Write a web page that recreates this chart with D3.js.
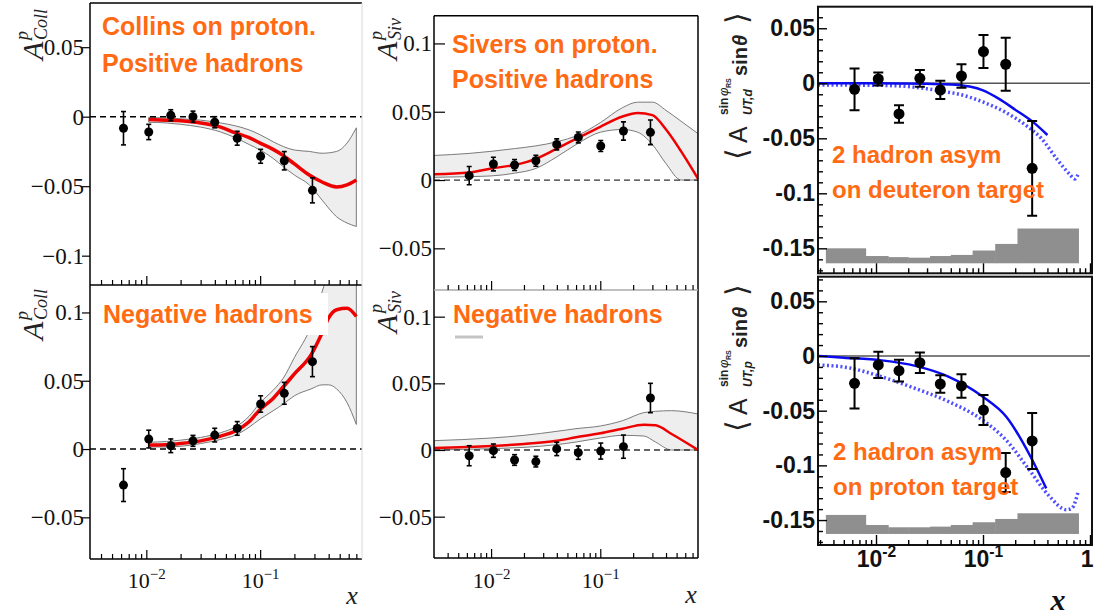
<!DOCTYPE html>
<html>
<head>
<meta charset="utf-8">
<script src="https://cdn.jsdelivr.net/npm/d3@7"></script>
<style>
  body { margin: 0; background: #fff; }
  svg { display: block; }
</style>
</head>
<body>
<div id="chart"></div>
<script>
// x bin centres (same for all six panels)
const xBins = [0.0063, 0.0105, 0.0164, 0.0257, 0.0399, 0.0629, 0.101, 0.163, 0.288];

// Collins, positive hadrons
const collinsPosVal = [-0.0083, -0.011, 0.001, 0.0, -0.004, -0.0155, -0.0285, -0.0317, -0.053];
const collinsPosErr = [0.012, 0.0055, 0.004, 0.004, 0.004, 0.005, 0.005, 0.0066, 0.009];
const collinsPosCurveX = [0.0105, 0.015, 0.02, 0.03, 0.045, 0.06, 0.08, 0.1, 0.13, 0.16, 0.2, 0.27, 0.35, 0.47, 0.58, 0.7];
const collinsPosFit = [-0.002, -0.0025, -0.003, -0.0045, -0.0075, -0.0115, -0.015, -0.019, -0.0235, -0.028, -0.034, -0.042, -0.047, -0.0505, -0.049, -0.0455];
const collinsPosHi = [-0.0005, -0.001, -0.0015, -0.0025, -0.0045, -0.0065, -0.0095, -0.013, -0.018, -0.0215, -0.024, -0.025, -0.0263, -0.025, -0.019, -0.008];
const collinsPosLo = [-0.004, -0.0045, -0.0055, -0.0075, -0.011, -0.015, -0.02, -0.024, -0.03, -0.036, -0.042, -0.049, -0.06, -0.072, -0.0765, -0.079];

// Collins, negative hadrons
const collinsNegVal = [-0.0264, 0.0073, 0.0024, 0.006, 0.0102, 0.0151, 0.033, 0.0408, 0.064];
const collinsNegErr = [0.012, 0.0065, 0.005, 0.004, 0.005, 0.005, 0.006, 0.008, 0.011];
const collinsNegCurveX = [0.0105, 0.015, 0.02, 0.03, 0.045, 0.06, 0.08, 0.1, 0.13, 0.16, 0.2, 0.28, 0.35, 0.4, 0.47, 0.58, 0.7];
const collinsNegFit = [0.003, 0.0032, 0.004, 0.006, 0.0095, 0.013, 0.02, 0.029, 0.037, 0.0456, 0.055, 0.069, 0.085, 0.096, 0.102, 0.103, 0.097];
const collinsNegHi = [0.005, 0.0055, 0.0065, 0.0085, 0.012, 0.016, 0.024, 0.034, 0.043, 0.052, 0.067, 0.09, 0.115, 0.13, 0.14, 0.15, 0.15];
const collinsNegLo = [0.0015, 0.0015, 0.002, 0.004, 0.007, 0.01, 0.016, 0.022, 0.028, 0.033, 0.039, 0.044, 0.047, 0.047, 0.044, 0.034, 0.018];

// Sivers, positive hadrons
const siversPosVal = [0.0032, 0.0117, 0.011, 0.0141, 0.0261, 0.0312, 0.0249, 0.0359, 0.0349];
const siversPosErr = [0.0067, 0.005, 0.004, 0.004, 0.004, 0.004, 0.004, 0.0067, 0.009];
const siversPosCurveX = [0.003, 0.0063, 0.01, 0.0164, 0.0257, 0.04, 0.063, 0.1, 0.16, 0.22, 0.3, 0.4, 0.55, 0.785];
const siversPosFit = [0.0042, 0.0055, 0.0085, 0.011, 0.0155, 0.023, 0.031, 0.039, 0.0465, 0.049, 0.0475, 0.037, 0.021, 0.001];
const siversPosHi = [0.018, 0.0195, 0.021, 0.023, 0.025, 0.028, 0.033, 0.042, 0.053, 0.057, 0.057, 0.051, 0.043, 0.034];
const siversPosLo = [0.002, 0.0025, 0.003, 0.005, 0.0085, 0.017, 0.027, 0.035, 0.037, 0.035, 0.026, 0.012, 0.0, 0.0];

// Sivers, negative hadrons
const siversNegVal = [-0.0043, -0.0005, -0.0075, -0.0087, 0.0008, -0.002, -0.0008, 0.0025, 0.039];
const siversNegErr = [0.0075, 0.005, 0.004, 0.004, 0.005, 0.005, 0.006, 0.0087, 0.011];
const siversNegCurveX = [0.003, 0.01, 0.02, 0.04, 0.06, 0.1, 0.16, 0.25, 0.32, 0.45, 0.785];
const siversNegFit = [0.0015, 0.003, 0.0045, 0.007, 0.0095, 0.0125, 0.016, 0.019, 0.0185, 0.012, 0.0];
const siversNegHi = [0.007, 0.009, 0.011, 0.014, 0.016, 0.018, 0.022, 0.028, 0.029, 0.0295, 0.027];
const siversNegLo = [0.0, 0.001, 0.002, 0.004, 0.006, 0.009, 0.011, 0.0105, 0.006, 0.0, 0.0];

// 2-hadron asymmetry, deuteron target
const twoHadDVal = [-0.0055, 0.0039, -0.0279, 0.0045, -0.0061, 0.0066, 0.0288, 0.0173, -0.0773];
const twoHadDErr = [0.019, 0.006, 0.008, 0.0076, 0.0083, 0.0106, 0.015, 0.024, 0.043];
const twoHadDSolidX = [0.00287, 0.01, 0.03, 0.05, 0.075, 0.1, 0.14, 0.2, 0.3, 0.4];
const twoHadDSolid = [0.0, 0.0, -0.0005, -0.001, -0.003, -0.0065, -0.014, -0.024, -0.036, -0.047];
const twoHadDDotX = [0.00287, 0.01, 0.02, 0.03, 0.04, 0.06, 0.1, 0.16, 0.25, 0.35, 0.5, 0.65, 0.72, 0.78];
const twoHadDDot = [-0.0015, -0.0018, -0.003, -0.005, -0.007, -0.01, -0.017, -0.026, -0.038, -0.05, -0.07, -0.083, -0.087, -0.082];

// 2-hadron asymmetry, proton target
const twoHadPVal = [-0.025, -0.0082, -0.0134, -0.0061, -0.0256, -0.0274, -0.0494, -0.1066, -0.0777];
const twoHadPErr = [0.023, 0.012, 0.01, 0.0094, 0.008, 0.0107, 0.0137, 0.0178, 0.0256];
const twoHadPSolidX = [0.00287, 0.005, 0.0113, 0.0233, 0.048, 0.099, 0.165, 0.273, 0.39];
const twoHadPSolid = [0.0, -0.0015, -0.004, -0.009, -0.019, -0.037, -0.0555, -0.0905, -0.121];
const twoHadPDotX = [0.00287, 0.0055, 0.0113, 0.023, 0.048, 0.099, 0.165, 0.27, 0.42, 0.6, 0.68, 0.77];
const twoHadPDot = [-0.0082, -0.0107, -0.019, -0.0295, -0.0418, -0.0585, -0.077, -0.104, -0.1285, -0.1405, -0.139, -0.125];

// systematic bands (histograms)
const sysEdges = [0.0034, 0.008, 0.013, 0.02, 0.032, 0.05, 0.08, 0.13, 0.21, 0.78];
const sysDTop = [-0.150, -0.157, -0.158, -0.1585, -0.157, -0.156, -0.152, -0.146, -0.132];
const sysPTop = [-0.1453, -0.1545, -0.1566, -0.1566, -0.156, -0.1545, -0.152, -0.149, -0.1438];
const sysDBase = -0.1636;
const sysPBase = -0.1627;

// tick labels
const yTicksColl1 = [0.05, 0, -0.05, -0.1];
const yTicksColl2 = [0.1, 0.05, 0, -0.05];
const yTicksSiv = [0.1, 0.05, 0, -0.05];
const yTicks2h = [0.05, 0, -0.05, -0.1, -0.15];
const xMajor = [0.01, 0.1, 1];

const W = 1094, H = 615;
const ORANGE = '#ff6a13';
const SERIF = '"Liberation Serif", "Times New Roman", serif';
const SANS = '"Liberation Sans", Arial, Helvetica, sans-serif';

const svg = d3.select('#chart').append('svg').attr('width', W).attr('height', H);
svg.append('rect').attr('width', W).attr('height', H).attr('fill', '#fff');

function makePanel(c) {
  const x = d3.scaleLog().domain(c.xd).range([c.x0, c.x1]);
  const y = d3.scaleLinear().domain(c.yd).range([c.y1, c.y0]);
  svg.append('clipPath').attr('id', 'clip-' + c.id).append('rect')
    .attr('x', c.x0).attr('y', c.y0).attr('width', c.x1 - c.x0).attr('height', c.y1 - c.y0);
  const g = svg.append('g').attr('clip-path', `url(#clip-${c.id})`);
  return {x, y, g, c};
}

const pL1 = makePanel({id: 'l1', x0: 90, x1: 362, y0: 3, y1: 285, xd: [0.0032, 0.785], yd: [-0.1211, 0.0818]});
const pL2 = makePanel({id: 'l2', x0: 90, x1: 362, y0: 285, y1: 559, xd: [0.0032, 0.785], yd: [-0.0805, 0.1201]});
const pM1 = makePanel({id: 'm1', x0: 434, x1: 698, y0: 15.7, y1: 290, xd: [0.003, 0.785], yd: [-0.0805, 0.1203]});
const pM2 = makePanel({id: 'm2', x0: 434, x1: 698, y0: 290, y1: 558, xd: [0.003, 0.785], yd: [-0.081, 0.12]});
const pR1 = makePanel({id: 'r1', x0: 818, x1: 1090, y0: 6.7, y1: 273.3, xd: [0.00287, 1], yd: [-0.1727, 0.0696]});
const pR2 = makePanel({id: 'r2', x0: 818, x1: 1090, y0: 276.7, y1: 545, xd: [0.00287, 1], yd: [-0.1728, 0.0725]});

function drawBand(p, xs, lo, hi) {
  const pts = xs.map((d, i) => [d, lo[i], hi[i]]);
  p.g.append('path').datum(pts)
    .attr('d', d3.area().x(d => p.x(d[0])).y0(d => p.y(d[1])).y1(d => p.y(d[2])).curve(d3.curveMonotoneX))
    .attr('fill', '#eeeeee').attr('stroke', '#7a7a7a').attr('stroke-width', 1);
}

function drawCurve(p, xs, ys, color, width, dash) {
  const pts = xs.map((d, i) => [d, ys[i]]);
  p.g.append('path').datum(pts)
    .attr('d', d3.line().x(d => p.x(d[0])).y(d => p.y(d[1])).curve(d3.curveMonotoneX))
    .attr('fill', 'none').attr('stroke', color).attr('stroke-width', width)
    .attr('stroke-dasharray', dash || null);
}

function drawZero(p, dashed, color, width) {
  p.g.append('line')
    .attr('x1', p.c.x0).attr('x2', p.c.x1 + 10)
    .attr('y1', p.y(0)).attr('y2', p.y(0))
    .attr('stroke', color).attr('stroke-width', width)
    .attr('stroke-dasharray', dashed ? '6,4' : null);
}

function drawPoints(p, vals, errs, r, cap, sw) {
  const data = xBins.map((d, i) => ({x: d, v: vals[i], e: errs[i]}));
  const g = p.g.append('g').attr('stroke', '#000').attr('stroke-width', sw);
  g.selectAll('line.bar').data(data).join('line').attr('class', 'bar')
    .attr('x1', d => p.x(d.x)).attr('x2', d => p.x(d.x))
    .attr('y1', d => p.y(d.v + d.e)).attr('y2', d => p.y(d.v - d.e));
  g.selectAll('line.cap-hi').data(data).join('line').attr('class', 'cap-hi')
    .attr('x1', d => p.x(d.x) - cap).attr('x2', d => p.x(d.x) + cap)
    .attr('y1', d => p.y(d.v + d.e)).attr('y2', d => p.y(d.v + d.e));
  g.selectAll('line.cap-lo').data(data).join('line').attr('class', 'cap-lo')
    .attr('x1', d => p.x(d.x) - cap).attr('x2', d => p.x(d.x) + cap)
    .attr('y1', d => p.y(d.v - d.e)).attr('y2', d => p.y(d.v - d.e));
  p.g.append('g').selectAll('circle').data(data).join('circle')
    .attr('cx', d => p.x(d.x)).attr('cy', d => p.y(d.v)).attr('r', r).attr('fill', '#000');
}

function drawHist(p, edges, tops, base) {
  const data = tops.map((t, i) => ({a: edges[i], b: edges[i + 1], t}));
  p.g.append('g').selectAll('rect').data(data).join('rect')
    .attr('x', d => p.x(d.a)).attr('width', d => p.x(d.b) - p.x(d.a) + 0.5)
    .attr('y', d => p.y(d.t)).attr('height', d => p.y(base) - p.y(d.t))
    .attr('fill', '#8f8f8f');
}

function minorTicks(dom) {
  const out = [];
  for (let k = -3; k <= 0; k++) for (let m = 2; m <= 9; m++) {
    const v = m * Math.pow(10, k);
    if (v > dom[0] && v < dom[1]) out.push(v);
  }
  return out;
}

// log x axis, ticks pointing up into the panel
function xAxis(p, yPos, o) {
  const dom = p.x.domain();
  const color = o.color || '#000';
  svg.append('g').attr('transform', `translate(0,${yPos})`)
    .call(d3.axisBottom(p.x).tickValues(minorTicks(dom)).tickSizeInner(-o.minor).tickSizeOuter(0).tickFormat(''))
    .call(g => g.select('.domain').remove())
    .call(g => g.selectAll('line').attr('stroke', color).attr('stroke-width', o.sw));
  const majors = xMajor.filter(v => v >= dom[0] && v <= dom[1] * 1.0001);
  const ax = svg.append('g').attr('transform', `translate(0,${yPos})`)
    .call(d3.axisBottom(p.x).tickValues(majors).tickSizeInner(-o.major).tickSizeOuter(0).tickFormat(''))
    .call(g => g.select('.domain').remove())
    .call(g => g.selectAll('line').attr('stroke', color).attr('stroke-width', o.sw));
  if (!o.labels) { ax.selectAll('text').remove(); return; }
  ax.attr('font-family', o.font).attr('font-size', o.size).attr('font-weight', o.weight || 'normal');
  ax.selectAll('.tick text')
    .attr('y', o.labelY).attr('dy', null).attr('fill', '#111')
    .each(function(d) {
      const t = d3.select(this);
      const e = Math.round(Math.log10(d));
      if (e === 0) {
        // the "1" sits on the picture's right edge: keep it inside
        t.attr('text-anchor', 'end').attr('x', W - 1 - p.x(d)).append('tspan').text('1');
        return;
      }
      t.append('tspan').text('10');
      t.append('tspan').attr('dy', -o.size * 0.42).attr('font-size', o.size * 0.68)
        .text((o.minus || '−') + Math.abs(e));
    });
}

function yAxis(p, ticks, o) {
  const ax = svg.append('g').attr('transform', `translate(${p.c.x0},0)`)
    .call(d3.axisLeft(p.y).tickValues(ticks).tickSizeInner(o.tick).tickSizeOuter(0).tickPadding(o.pad)
      .tickFormat(d => String(d).replace('-', o.minus)))
    .call(g => g.select('.domain').remove())
    .call(g => g.selectAll('line').attr('stroke', '#000').attr('stroke-width', o.sw));
  ax.attr('font-family', o.font).attr('font-size', o.size).attr('font-weight', o.weight || 'normal');
  ax.selectAll('text').attr('fill', '#111');
  if (o.minorStep) {
    const [a, b] = p.y.domain();
    const vals = d3.range(Math.ceil(a / o.minorStep), Math.floor(b / o.minorStep) + 1).map(k => k * o.minorStep)
      .filter(v => Math.abs(v / 0.05 - Math.round(v / 0.05)) > 1e-6);
    svg.append('g').attr('transform', `translate(${p.c.x0},0)`)
      .call(d3.axisLeft(p.y).tickValues(vals).tickSizeInner(-o.minorLen).tickSizeOuter(0).tickFormat(''))
      .call(g => g.select('.domain').remove())
      .call(g => g.selectAll('line').attr('stroke', '#000').attr('stroke-width', o.sw));
  }
}

function hline(x1, x2, y, color, w) {
  svg.append('line').attr('x1', x1).attr('x2', x2).attr('y1', y).attr('y2', y)
    .attr('stroke', color).attr('stroke-width', w);
}
function vline(x, y1, y2, color, w) {
  svg.append('line').attr('x1', x).attr('x2', x).attr('y1', y1).attr('y2', y2)
    .attr('stroke', color).attr('stroke-width', w);
}

function label(lines, x, y0, step, size, weight, box) {
  if (box) svg.append('rect').attr('x', box[0]).attr('y', box[1]).attr('width', box[2]).attr('height', box[3]).attr('fill', '#fff');
  lines.forEach((s, i) => {
    svg.append('text').attr('x', x).attr('y', y0 + i * step)
      .attr('font-family', SANS).attr('font-size', size).attr('font-weight', weight)
      .attr('fill', ORANGE).text(s);
  });
}

// rotated "A^p_sub" title (Times italic)
function titleA(x, y, sub) {
  const g = svg.append('g').attr('transform', `translate(${x},${y}) rotate(-90)`)
    .attr('font-family', SERIF).attr('font-style', 'italic').attr('fill', '#222');
  g.append('text').attr('x', 0).attr('y', 0).attr('font-size', 30).text('A');
  g.append('text').attr('x', 20).attr('y', -15).attr('font-size', 18).text('p');
  g.append('text').attr('x', 20).attr('y', 4).attr('font-size', 18).text(sub);
}

// rotated <A^{sin phi_RS}_{UT,t} sin theta> title
function title2h(x, y, target) {
  const g = svg.append('g').attr('transform', `translate(${x},${y}) rotate(-90)`)
    .attr('font-family', SANS).attr('fill', '#222');
  g.append('text').attr('x', 0).attr('y', 0).attr('font-size', 30).attr('font-family', '"DejaVu Sans", sans-serif').text('⟨');
  g.append('text').attr('x', 17).attr('y', 0).attr('font-size', 25).text('A');
  g.append('text').attr('x', 45).attr('y', -19).attr('font-size', 12).attr('font-weight', 'bold').text('sin');
  g.append('text').attr('x', 64).attr('y', -19).attr('font-size', 13).attr('font-style', 'italic').text('φ');
  g.append('text').attr('x', 72).attr('y', -16).attr('font-size', 7).attr('font-weight', 'bold').text('RS');
  g.append('text').attr('x', 45).attr('y', 5).attr('font-size', 12).attr('font-weight', 'bold').attr('font-style', 'italic').text('UT,' + target);
  g.append('text').attr('x', 84).attr('y', 0).attr('font-size', 20).attr('font-weight', 'bold').text('sin');
  g.append('text').attr('x', 114).attr('y', 0).attr('font-size', 20).attr('font-weight', 'bold').attr('font-style', 'italic').text('θ');
  g.append('text').attr('x', 136).attr('y', 0).attr('font-size', 30).attr('font-family', '"DejaVu Sans", sans-serif').text('⟩');
}

// ---------- left column: Collins ----------
drawBand(pL1, collinsPosCurveX, collinsPosLo, collinsPosHi);
drawZero(pL1, true, '#000', 1.5);
drawCurve(pL1, collinsPosCurveX, collinsPosFit, '#ee0000', 3.5);
drawPoints(pL1, collinsPosVal, collinsPosErr, 4.5, 2.5, 1.6);

drawBand(pL2, collinsNegCurveX, collinsNegLo, collinsNegHi);
drawZero(pL2, true, '#000', 1.5);
drawCurve(pL2, collinsNegCurveX, collinsNegFit, '#ee0000', 3.5);
drawPoints(pL2, collinsNegVal, collinsNegErr, 4.5, 2.5, 1.6);

// ---------- middle column: Sivers ----------
drawBand(pM1, siversPosCurveX, siversPosLo, siversPosHi);
drawZero(pM1, true, '#333', 1.3);
drawCurve(pM1, siversPosCurveX, siversPosFit, '#ee0000', 2.5);
drawPoints(pM1, siversPosVal, siversPosErr, 4.5, 2.5, 1.6);

drawBand(pM2, siversNegCurveX, siversNegLo, siversNegHi);
drawZero(pM2, true, '#333', 1.3);
drawCurve(pM2, siversNegCurveX, siversNegFit, '#ee0000', 2.5);
drawPoints(pM2, siversNegVal, siversNegErr, 4.5, 2.5, 1.6);

// ---------- right column: 2-hadron ----------
drawHist(pR1, sysEdges, sysDTop, sysDBase);
drawZero(pR1, false, '#555', 1.5);
drawCurve(pR1, twoHadDDotX, twoHadDDot, '#4f4fff', 3.5, '2,2.5');
drawCurve(pR1, twoHadDSolidX, twoHadDSolid, '#0a0aee', 2.5);
drawPoints(pR1, twoHadDVal, twoHadDErr, 5.5, 5, 2);

drawHist(pR2, sysEdges, sysPTop, sysPBase);
drawZero(pR2, false, '#555', 1.5);
drawCurve(pR2, twoHadPDotX, twoHadPDot, '#4f4fff', 3.5, '2,2.5');
drawCurve(pR2, twoHadPSolidX, twoHadPSolid, '#0a0aee', 2.5);
drawPoints(pR2, twoHadPVal, twoHadPErr, 5.5, 5, 2);

// ---------- frames ----------
vline(90, 3, 559, '#000', 1.5);
hline(90, 362, 3, '#000', 1.5);
hline(90, 362, 285, '#000', 1.5);
hline(90, 362, 559, '#000', 1.5);
vline(362, 3, 559, '#d8d8d8', 1);

vline(434, 15.7, 558, '#000', 1.5);
vline(698, 15.7, 558, '#000', 1.5);
hline(434, 698, 15.7, '#000', 1.5);
hline(434, 698, 290, '#aaa', 1.5);
hline(434, 698, 558, '#000', 1.5);

svg.append('rect').attr('x', 818).attr('y', 6.7).attr('width', 274).attr('height', 266.6)
  .attr('fill', 'none').attr('stroke', '#111').attr('stroke-width', 2);
svg.append('rect').attr('x', 818).attr('y', 276.7).attr('width', 274).attr('height', 268.3)
  .attr('fill', 'none').attr('stroke', '#111').attr('stroke-width', 2);

// ---------- axes ----------
const serifX = {font: SERIF, size: 22, major: 9, minor: 5, sw: 1.2};
xAxis(pL1, 285, Object.assign({}, serifX, {labels: false}));
xAxis(pL2, 559, Object.assign({}, serifX, {labels: true, labelY: 29}));
xAxis(pM1, 290, Object.assign({}, serifX, {labels: false}));
xAxis(pM2, 558, Object.assign({}, serifX, {labels: true, labelY: 30}));
const sansX = {font: SANS, size: 23, weight: 'bold', major: 10, minor: 5, sw: 1.4, minus: '-'};
xAxis(pR1, 273.3, Object.assign({}, sansX, {labels: false}));
xAxis(pR2, 545, Object.assign({}, sansX, {labels: true, labelY: 22}));

const serifY = {font: SERIF, size: 23, sw: 1.2, minus: '−'};
yAxis(pL1, yTicksColl1, Object.assign({}, serifY, {tick: 8, pad: -2}));
yAxis(pL2, yTicksColl2, Object.assign({}, serifY, {tick: 8, pad: -2}));
yAxis(pM1, yTicksSiv, Object.assign({}, serifY, {tick: -11, pad: 2}));
yAxis(pM2, yTicksSiv, Object.assign({}, serifY, {tick: -11, pad: 2}));
const sansY = {font: SANS, size: 23, weight: 'bold', sw: 1.4, minus: '-', tick: -9, pad: 3, minorStep: 0.01, minorLen: 5};
yAxis(pR1, yTicks2h, sansY);
yAxis(pR2, yTicks2h, sansY);

// axis titles
titleA(43, 60, 'Coll');
titleA(43, 340, 'Coll');
titleA(397, 60, 'Siv');
titleA(397, 333, 'Siv');
title2h(747, 160, 'd');
title2h(747, 432, 'p');

svg.append('text').attr('x', 352).attr('y', 604).attr('text-anchor', 'middle')
  .attr('font-family', SERIF).attr('font-style', 'italic').attr('font-size', 26).attr('fill', '#222').text('x');
svg.append('text').attr('x', 691).attr('y', 603).attr('text-anchor', 'middle')
  .attr('font-family', SERIF).attr('font-style', 'italic').attr('font-size', 26).attr('fill', '#222').text('x');
svg.append('text').attr('x', 1058).attr('y', 610).attr('text-anchor', 'middle')
  .attr('font-family', SERIF).attr('font-style', 'italic').attr('font-weight', 'bold').attr('font-size', 30).attr('fill', '#111').text('x');

// stray legend stub in the Sivers negative panel
hline(455, 483, 337, '#c4c4c4', 3);

// ---------- orange labels ----------
label(['Collins on proton.', 'Positive hadrons'], 102, 35, 37, 25, 'bold');
label(['Negative hadrons'], 103, 323, 0, 25, 'bold', [98, 293, 230, 42]);
label(['Sivers on proton.', 'Positive hadrons'], 452, 53, 35, 25, 'bold');
label(['Negative hadrons'], 453, 323, 0, 25, 'bold');
label(['2 hadron asym', 'on deuteron target'], 832, 163, 35, 24, 'bold');
label(['2 hadron asym', 'on proton target'], 833, 460, 35, 24, 'bold');
</script>
</body>
</html>
